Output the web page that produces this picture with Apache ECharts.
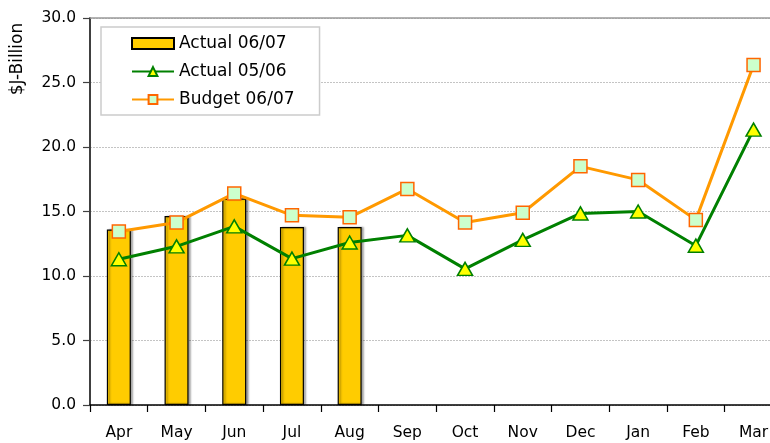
<!DOCTYPE html>
<html>
<head>
<meta charset="utf-8">
<script src="https://cdn.jsdelivr.net/npm/echarts@6/dist/echarts.min.js"></script>
<style>
html,body{margin:0;padding:0;background:#fff;}
#chart{width:770px;height:443px;}
</style>
</head>
<body>
<div id="chart"></div>
<script>
var months = ['Apr','May','Jun','Jul','Aug','Sep','Oct','Nov','Dec','Jan','Feb','Mar'];
var actual0607 = [13.6, 14.65, 16.0, 13.8, 13.8, null, null, null, null, null, null, null];
var actual0506 = [11.3, 12.3, 13.85, 11.35, 12.6, 13.15, 10.55, 12.8, 14.85, 15.0, 12.35, 21.35];
var budget0607 = [13.45, 14.15, 16.4, 14.7, 14.55, 16.75, 14.15, 14.9, 18.5, 17.45, 14.35, 26.35];
var yTicks = [0, 5, 30];

var FONT = 'DejaVu Sans';
var chart = echarts.init(document.getElementById('chart'), null, {renderer:'canvas'});
chart.setOption({
  animation: false,
  backgroundColor: '#ffffff',
  textStyle: {fontFamily: FONT},
  grid: {left: 90, right: -12.4, top: 18, bottom: 38, containLabel: false, outerBoundsMode: 'none'},
  legend: {
    orient: 'vertical',
    left: 101, top: 27,
    padding: [8, 25, 7, 30],
    itemGap: 11,
    itemWidth: 42,
    itemHeight: 11,
    backgroundColor: '#ffffff',
    borderColor: '#cccccc',
    borderWidth: 1.5,
    borderRadius: 0,
    textStyle: {fontFamily: FONT, fontSize: 17, color: '#000'},
    data: [{name: 'Actual 06/07', icon: 'rect'}, {name: 'Actual 05/06'}, {name: 'Budget 06/07'}]
  },
  graphic: [{
    type: 'text',
    x: 18, y: 59,
    rotation: Math.PI / 2,
    style: {text: '$J-Billion', font: '17px "DejaVu Sans"', fill: '#000', align: 'center', verticalAlign: 'middle'}
  }],
  xAxis: [{
    type: 'category',
    data: months,
    boundaryGap: true,
    axisLine: {lineStyle: {color: '#000', width: 1.5}},
    axisTick: {show: true, length: 7, alignWithLabel: false, lineStyle: {color: '#000', width: 1.2}},
    axisLabel: {interval: 0, margin: 20, fontSize: 15.5, color: '#000', fontFamily: FONT},
    splitLine: {show: false}
  }, {
    type: 'category',
    data: months,
    position: 'top',
    boundaryGap: true,
    axisLine: {lineStyle: {color: '#9a9a9a', width: 1.5}},
    axisTick: {show: false},
    axisLabel: {show: false}
  }],
  yAxis: {
    type: 'value',
    min: yTicks[0], max: yTicks[2], interval: yTicks[1],
    axisLine: {show: true, lineStyle: {color: '#404040', width: 2}},
    axisTick: {show: true, length: 7, lineStyle: {color: '#404040', width: 1.2}},
    axisLabel: {margin: 14, fontSize: 15.5, color: '#000', fontFamily: FONT,
      formatter: function (v) { return v.toFixed(1); }},
    splitLine: {show: true, lineStyle: {color: '#c4c4c4', width: 1, type: [2, 1]}}
  },
  series: [{
    name: 'Actual 06/07',
    type: 'bar',
    data: actual0607,
    barWidth: 24,
    itemStyle: {color: '#ffcc00', borderColor: '#000', borderWidth: 1.2,
      shadowColor: 'rgba(0,0,0,0.35)', shadowOffsetX: 2, shadowOffsetY: 0, shadowBlur: 2},
    z: 2
  }, {
    name: 'Actual 05/06',
    type: 'line',
    data: actual0506,
    symbol: 'triangle',
    symbolSize: [15, 13],
    lineStyle: {color: '#008000', width: 3},
    itemStyle: {color: '#ffff00', borderColor: '#008000', borderWidth: 1.5},
    z: 3
  }, {
    name: 'Budget 06/07',
    type: 'line',
    data: budget0607,
    symbol: 'rect',
    symbolSize: 13,
    lineStyle: {color: '#ff9900', width: 3},
    itemStyle: {color: '#ccffcc', borderColor: '#ff6600', borderWidth: 1.5},
    z: 4
  }]
});
</script>
</body>
</html>
